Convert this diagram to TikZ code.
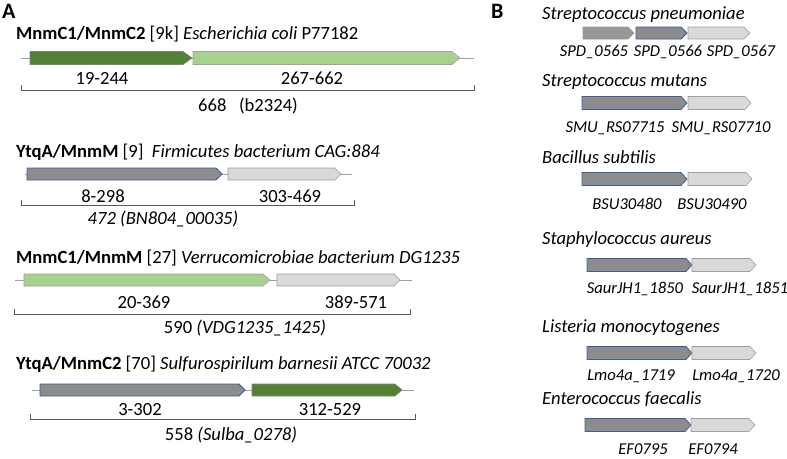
\documentclass[tikz,border=0pt]{standalone}
\usepackage{fontspec}
\setmainfont{Carlito}
\definecolor{dgreen}{HTML}{548235}
\definecolor{lgreen}{HTML}{A9D18E}
\definecolor{mgrey}{HTML}{8C8C8C}
\definecolor{lgrey}{HTML}{D9D9D9}
\definecolor{edgegrey}{HTML}{A0A0A0}
\definecolor{bluee}{HTML}{3A5DA0}
\definecolor{brk}{HTML}{595959}
\newcommand\gene[6]{\draw[#1] (#2,{#4-#5/2}) -- ({#3-#6},{#4-#5/2}) -- (#3,#4) -- ({#3-#6},{#4+#5/2}) -- (#2,{#4+#5/2}) -- cycle;}
\newcommand\brkt[3]{\draw[bracket] (#1,{#3-5}) -- (#1,#3) -- (#2,#3) -- (#2,{#3-5});}
\begin{document}
\begin{tikzpicture}[x=1pt,y=-1pt,
  txt/.style={inner sep=0pt,font=\fontsize{18.6}{21}\selectfont},
  tag/.style={inner sep=0pt,font=\fontsize{16.6}{19}\selectfont\itshape},
  panel/.style={inner sep=0pt,font=\fontsize{22}{24}\selectfont\bfseries},
  backbone/.style={draw=edgegrey,line width=0.9pt},
  bracket/.style={draw=brk,line width=0.8pt},
  dg/.style={fill=dgreen,draw=edgegrey!80!black,line width=0.6pt},
  lg/.style={fill=lgreen,draw=edgegrey,line width=0.6pt},
  mgb/.style={fill=mgrey,draw=bluee,line width=0.8pt},
  mg/.style={fill=mgrey!90!white,draw=mgrey!90!white,line width=0.6pt},
  lgy/.style={fill=lgrey,draw=edgegrey,line width=0.6pt}]
\useasboundingbox (0,0) rectangle (787,458);
% panel letters
\node[panel,anchor=base west] (pA) at (2,18) {A};
\node[panel,anchor=base west] (pB) at (491,18) {B};
% ---------- Row 1
\node[txt,anchor=base west] (t1) at (16,39) {\textbf{MnmC1/MnmC2} [9k] \textit{Escherichia coli} P77182};
\draw[backbone] (21,58) -- (474,58);
\gene{dg}{30}{192}{58}{13}{9}
\gene{lg}{193}{460}{58}{13}{8}
\node[txt,anchor=base] (l11) at (102,84) {19-244};
\node[txt,anchor=base] (l12) at (312,84) {267-662};
\brkt{21}{474}{90}
\node[txt,anchor=base] (b1) at (248,111) {668\ \ \ (b2324)};
% ---------- Row 2
\node[txt,anchor=base west] (t2) at (16,157) {\textbf{YtqA/MnmM} [9]\ \ \textit{Firmicutes bacterium CAG:884}};
\draw[backbone] (25,174) -- (352,174);
\gene{mgb}{27}{222}{174}{12}{6}
\gene{lgy}{228}{341}{174}{12}{6}
\node[txt,anchor=base] (l21) at (103,202) {8-298};
\node[txt,anchor=base] (l22) at (290,202) {303-469};
\brkt{21}{354}{205}
\node[txt,anchor=base] (b2) at (163,224) {\textit{472 (BN804\_00035)}};
% ---------- Row 3
\node[txt,anchor=base west] (t3) at (16,263) {\textbf{MnmC1/MnmM} [27] \textit{Verrucomicrobiae bacterium DG1235}};
\draw[backbone] (15,280) -- (412,280);
\gene{lg}{24}{270}{280}{12}{7}
\gene{lgy}{277}{400}{280}{12}{6}
\node[txt,anchor=base] (l31) at (144,308) {20-369};
\node[txt,anchor=base] (l32) at (356,308) {389-571};
\brkt{14}{410}{314}
\node[txt,anchor=base] (b3) at (245,333) {590 \textit{(VDG1235\_1425)}};
% ---------- Row 4
\node[txt,anchor=base west] (t4) at (16,369) {\textbf{YtqA/MnmC2} [70] \textit{Sulfurospirilum barnesii ATCC 70032}};
\draw[backbone] (32,390) -- (414,390);
\gene{mgb}{40}{245}{390}{12}{6}
\gene{dg}{252}{402}{390}{12}{7}
\node[txt,anchor=base] (l41) at (140,415) {3-302};
\node[txt,anchor=base] (l42) at (330,415) {312-529};
\brkt{30}{415}{419}
\node[txt,anchor=base] (b4) at (231,440) {558 \textit{(Sulba\_0278)}};
% ---------- Panel B
\node[txt,anchor=base west] (s1) at (542,19) {\textit{Streptococcus pneumoniae}};
\gene{mg}{583}{634}{33}{12}{6}
\gene{mgb}{636}{687}{33}{12}{6}
\gene{lgy}{688}{750}{33}{12}{6}
\node[tag,anchor=base] (g11) at (594,56) {SPD\_0565};
\node[tag,anchor=base] (g12) at (668,56) {SPD\_0566};
\node[tag,anchor=base] (g13) at (741,56) {SPD\_0567};
\node[txt,anchor=base west] (s2) at (542,86) {\textit{Streptococcus mutans}};
\gene{mgb}{582}{687}{103}{13}{6}
\gene{lgy}{688}{751}{103}{13}{6}
\node[tag,anchor=base] (g21) at (615,132) {SMU\_RS07715};
\node[tag,anchor=base] (g22) at (721,132) {SMU\_RS07710};
\node[txt,anchor=base west] (s3) at (542,163) {\textit{Bacillus subtilis}};
\gene{mgb}{582}{687}{179}{13}{6}
\gene{lgy}{688}{752}{179}{13}{6}
\node[tag,anchor=base] (g31) at (627,209) {BSU30480};
\node[tag,anchor=base] (g32) at (712,209) {BSU30490};
\node[txt,anchor=base west] (s4) at (542,244) {\textit{Staphylococcus aureus}};
\gene{mgb}{587}{692}{265}{13}{6}
\gene{lgy}{692}{756}{265}{13}{6}
\node[tag,anchor=base] (g41) at (635,293) {SaurJH1\_1850};
\node[tag,anchor=base] (g42) at (740,293) {SaurJH1\_1851};
\node[txt,anchor=base west] (s5) at (542,332) {\textit{Listeria monocytogenes}};
\gene{mgb}{587}{692}{353}{13}{6}
\gene{lgy}{692}{756}{353}{13}{6}
\node[tag,anchor=base] (g51) at (631,380) {Lmo4a\_1719};
\node[tag,anchor=base] (g52) at (736,380) {Lmo4a\_1720};
\node[txt,anchor=base west] (s6) at (542,404) {\textit{Enterococcus faecalis}};
\gene{mgb}{585}{691}{425}{13}{6}
\gene{lgy}{691}{755}{425}{13}{6}
\node[tag,anchor=base] (g61) at (643,454) {EF0795};
\node[tag,anchor=base] (g62) at (713,454) {EF0794};
\end{tikzpicture}
\end{document}
